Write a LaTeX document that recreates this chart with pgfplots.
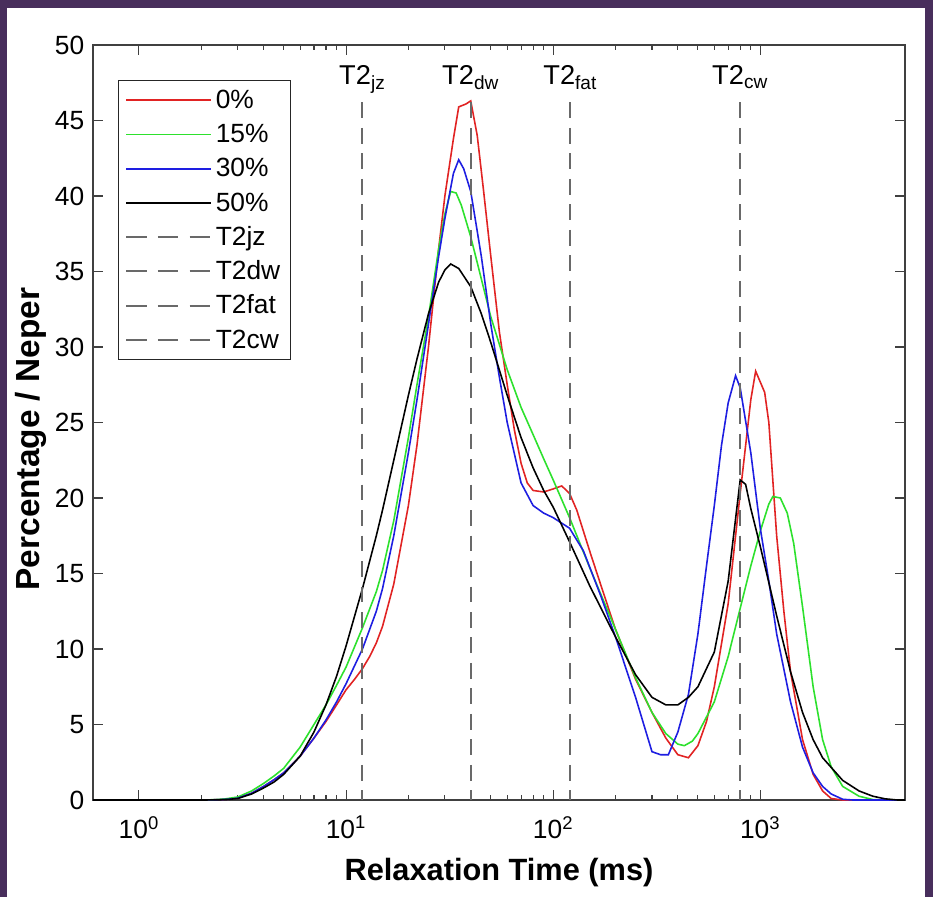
\documentclass[border=0pt]{standalone}
\usepackage{fontspec}
\setmainfont{Liberation Sans}
\usepackage{pgfplots}
\usepackage{pgfplotstable}
\pgfplotsset{compat=1.18}
\definecolor{bgpurple}{RGB}{72,46,92}
\definecolor{cred}{RGB}{225,35,35}
\definecolor{cgreen}{RGB}{45,225,45}
\definecolor{cblue}{RGB}{30,30,225}
\definecolor{cdash}{RGB}{105,105,105}

\pgfplotstableread{
x y
0.6 0
2 0
2.4 0.02
2.7 0.05
3 0.12
3.5 0.45
4 0.9
4.5 1.35
5 1.8
6 2.9
7 4.1
8 5.2
9 6.3
10 7.3
11 8.0
12 8.7
13 9.5
14 10.4
15 11.5
17 14.3
20 19.5
22 23.5
25 30
28 36.5
30 40
33 43.8
35 45.9
38 46.1
40 46.3
43 44
46 40.5
50 36
55 31
60 27.5
65 24.5
70 22.3
75 21
80 20.5
90 20.4
100 20.6
110 20.8
120 20.3
130 19.2
150 16.5
175 13.7
200 11.3
250 8
300 5.8
350 4.1
400 3.0
450 2.8
500 3.6
550 5.2
600 7.5
700 13
800 20.3
900 26.5
950 28.4
1050 27
1100 25
1200 17.5
1300 12.5
1400 8.5
1600 4
1800 1.7
2000 0.6
2200 0.1
2500 0
5000 0
}\redtab

\pgfplotstableread{
x y
0.6 0
2 0
2.3 0.02
2.6 0.07
3 0.2
3.5 0.6
4 1.1
4.5 1.6
5 2.1
6 3.5
7 5.0
8 6.3
9 7.6
10 8.8
12 11.4
14 13.8
15 15.2
17 18.5
20 24
22 27.5
25 32
28 36.5
30 38.8
32 40.3
34 40.2
36 39.4
40 37.3
45 34.5
50 32
60 28.5
70 26
80 24.2
90 22.6
100 21.2
120 18.7
150 15.4
200 11.3
250 8.1
300 5.8
350 4.4
400 3.7
430 3.6
470 3.9
500 4.4
600 6.5
700 9.5
800 12.7
900 15.5
1000 17.8
1100 19.6
1150 20.1
1250 20
1350 19
1450 17
1600 12.8
1800 7.5
2000 4
2200 2.2
2500 0.9
3000 0.25
3500 0.03
4000 0
5000 0
}\greentab

\pgfplotstableread{
x y
0.6 0
2 0
2.4 0.02
2.7 0.05
3 0.12
3.5 0.45
4 0.9
4.5 1.35
5 1.8
6 2.9
7 4.1
8 5.3
9 6.5
10 7.7
12 10
14 12.5
15 14
17 17.5
20 23
22 26.5
25 31.5
28 36
30 38.5
33 41.5
35 42.4
37 41.8
40 40.3
45 36
50 31.5
55 28
60 25
70 21
80 19.5
90 19
100 18.7
120 18
140 16.5
170 13.5
200 10.8
250 6.8
300 3.2
330 3.0
360 3.0
400 4.5
450 7
500 11
550 15.5
600 19.5
650 23.5
700 26.3
760 28.1
800 27.3
900 23
1000 18
1100 14.5
1200 11
1400 6.5
1600 3.5
1800 1.8
2000 0.9
2200 0.4
2500 0.05
2800 0
5000 0
}\bluetab

\pgfplotstableread{
x y
0.6 0
2 0
2.4 0.01
2.7 0.04
3 0.1
3.5 0.4
4 0.8
4.5 1.2
5 1.7
6 2.9
7 4.5
8 6.3
9 8.2
10 10.2
12 14
14 17.5
15 19.2
17 22.5
20 26.8
22 29.2
25 32.2
28 34.3
30 35.1
32 35.5
35 35.2
40 34
45 32.2
50 30.3
60 26.8
70 24
80 22
90 20.5
100 19.4
120 17.1
150 14.2
200 10.8
250 8.3
300 6.8
350 6.3
400 6.3
450 6.8
500 7.5
600 9.8
700 14.5
800 21.2
850 20.9
900 19.3
1000 16.8
1200 12.2
1400 8.5
1600 5.8
1800 4
2000 2.8
2500 1.3
3000 0.6
3500 0.25
4000 0.08
4600 0
5000 0
}\blacktab

\begin{document}
\begin{tikzpicture}
\fill[bgpurple] (0,0) rectangle (18.66cm,17.94cm);
\fill[white] (0.14cm,0) rectangle (18.5cm,17.78cm);
\begin{axis}[
  at={(1.86cm,1.94cm)}, anchor=south west,
  scale only axis, width=16.24cm, height=15.1cm,
  xmode=log, xmin=0.6, xmax=5000, ymin=0, ymax=50,
  xtick={1,10,100,1000},
  xticklabels={10\textsuperscript{0},10\textsuperscript{1},10\textsuperscript{2},10\textsuperscript{3}},
  ytick={0,5,...,50},
  tick align=inside,
  major tick length=0.2cm, minor tick length=0.1cm,
  axis line style={draw=black!75, line width=0.7pt},
  every tick/.style={black!75, line width=0.6pt},
  tick label style={font=\fontsize{15}{17}\selectfont},
  /pgf/number format/assume math mode=true,
  xticklabel style={yshift=-0.2cm},
  yticklabel style={xshift=-0.05cm},
  xlabel={Relaxation Time (ms)},
  ylabel={Percentage / Neper},
  xlabel style={font=\fontsize{17.5}{20}\selectfont\bfseries, at={(axis description cs:0.5,-0.106)}, anchor=base},
  ylabel style={font=\fontsize{19}{22}\selectfont\bfseries, at={(axis description cs:-0.0653,0.478)}, anchor=base},
  legend cell align=left,
  legend image code/.code={\draw[#1] (0cm,0cm) -- (1.7cm,0cm);},
  legend style={at={(axis description cs:0.0308,0.9536)}, anchor=north west,
    draw=black!85, fill=white,
    font=\fontsize{15}{17}\selectfont,
    inner xsep=0.14cm, inner ysep=0.11cm, row sep=3.1pt,
    /tikz/every even column/.append style={column sep=0.05cm}},
]
\addplot[cred, line width=0.9pt, legend image post style={line width=1.1pt}] table[x=x,y=y] {\redtab};
\addlegendentry{0\%\vphantom{T2jz}}
\addplot[cgreen, line width=0.9pt, legend image post style={line width=1.1pt}] table[x=x,y=y] {\greentab};
\addlegendentry{15\%\vphantom{T2jz}}
\addplot[cblue, line width=0.9pt, legend image post style={line width=1.1pt}] table[x=x,y=y] {\bluetab};
\addlegendentry{30\%\vphantom{T2jz}}
\addplot[black, line width=0.9pt, legend image post style={line width=1.1pt}] table[x=x,y=y] {\blacktab};
\addlegendentry{50\%\vphantom{T2jz}}
\addplot[cdash, line width=1.1pt, dash pattern=on 9pt off 5.5pt, legend image post style={dash pattern=on 11.5pt off 6.5pt}] coordinates {(12,46.2) (12,0)};
\addlegendentry{T2jz}
\addplot[cdash, line width=1.1pt, dash pattern=on 9pt off 5.5pt, legend image post style={dash pattern=on 11.5pt off 6.5pt}] coordinates {(40,46.2) (40,0)};
\addlegendentry{T2dw\vphantom{T2jz}}
\addplot[cdash, line width=1.1pt, dash pattern=on 9pt off 5.5pt, legend image post style={dash pattern=on 11.5pt off 6.5pt}] coordinates {(121,46.2) (121,0)};
\addlegendentry{T2fat\vphantom{T2jz}}
\addplot[cdash, line width=1.1pt, dash pattern=on 9pt off 5.5pt, legend image post style={dash pattern=on 11.5pt off 6.5pt}] coordinates {(800,46.2) (800,0)};
\addlegendentry{T2cw\vphantom{T2jz}}
\node[anchor=base, font=\fontsize{15.5}{18}\selectfont] at (axis cs:12,47.4) {T2\textsubscript{jz}};
\node[anchor=base, font=\fontsize{15.5}{18}\selectfont] at (axis cs:40,47.4) {T2\textsubscript{dw}};
\node[anchor=base, font=\fontsize{15.5}{18}\selectfont] at (axis cs:121,47.4) {T2\textsubscript{fat}};
\node[anchor=base, font=\fontsize{15.5}{18}\selectfont] at (axis cs:800,47.4) {T2\textsubscript{cw}};
\end{axis}
\end{tikzpicture}
\end{document}
